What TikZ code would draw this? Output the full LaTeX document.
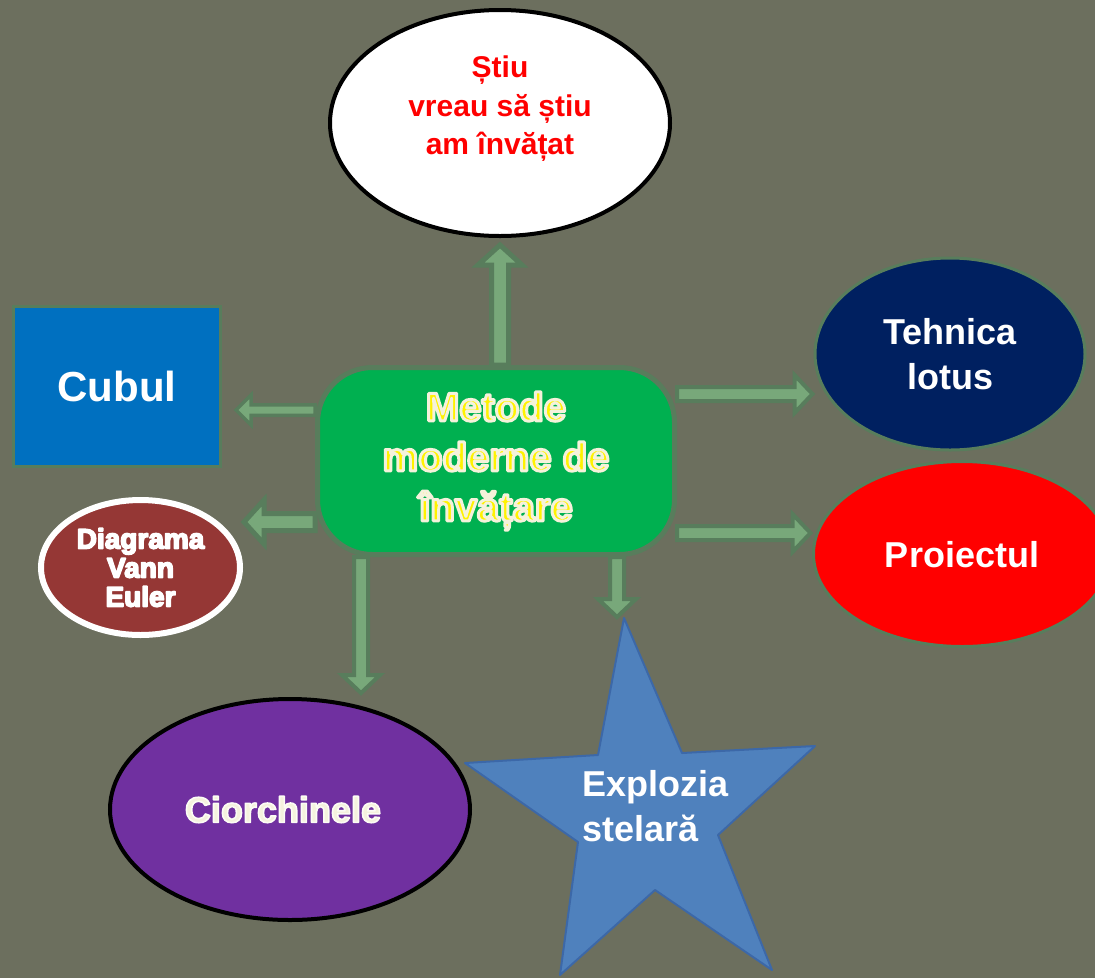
\documentclass[tikz,border=0pt]{standalone}
\usepackage{fontspec}
\setmainfont{Liberation Sans}
\usetikzlibrary{shapes.geometric, calc}
\definecolor{bgcol}{RGB}{108,111,94}
\definecolor{arrowedge}{RGB}{88,125,92}
\definecolor{arrowfill}{RGB}{120,168,122}
\definecolor{mainfill}{RGB}{0,176,80}
\definecolor{cream}{RGB}{245,242,222}
\definecolor{cubeblue}{RGB}{0,112,192}
\definecolor{lotusblue}{RGB}{0,32,96}
\definecolor{vennred}{RGB}{149,55,53}
\definecolor{grapepurple}{RGB}{112,48,160}
\definecolor{starblue}{RGB}{79,129,189}
\definecolor{staredge}{RGB}{60,104,168}
\newcommand{\fsz}[2]{\bfseries\fontsize{#1}{#2}\selectfont}
% text with a stroked outline: colour (rgb), width, text
\newcommand{\outlined}[3]{\special{pdf:literal direct 2 Tr 1 j #2 w #1 RG}#3\special{pdf:literal direct 0 Tr}}
\begin{document}
\begin{tikzpicture}[x=1pt, y=-1pt,
    every node/.style={inner sep=0pt, align=center},
    main/.style={rectangle, rounded corners=55pt, fill=mainfill, draw=arrowedge, line width=5pt,
        minimum width=357pt, minimum height=187pt, text=yellow, font=\fsz{40pt}{50pt}},
    oval/.style={ellipse, line width=3pt, draw=arrowedge, text=white},
    % block arrow: half shaft, half head, head length, border
    blockarr/.style n args={4}{fill=arrowfill, draw=arrowedge, line width=#4, line join=miter,
        to path={($(\tikztostart)!#1!90:(\tikztotarget)$)
            -- ($($(\tikztotarget)!#3!(\tikztostart)$)!#1!90:(\tikztotarget)$)
            -- ($($(\tikztotarget)!#3!(\tikztostart)$)!#2!90:(\tikztotarget)$)
            -- (\tikztotarget)
            -- ($($(\tikztotarget)!#3!(\tikztostart)$)!#2!-90:(\tikztotarget)$)
            -- ($($(\tikztotarget)!#3!(\tikztostart)$)!#1!-90:(\tikztotarget)$)
            -- ($(\tikztostart)!#1!-90:(\tikztotarget)$) -- cycle}},
    bigarr/.style={blockarr={8.5pt}{22pt}{20pt}{5pt}},
    midarr/.style={blockarr={7pt}{19pt}{18pt}{4pt}},
    smallarr/.style={blockarr={5.25pt}{15pt}{15pt}{3.5pt}}
]
\useasboundingbox (0,0) rectangle (1095,978);
\clip (0,0) rectangle (1095,978);
\fill[bgcol] (0,0) rectangle (1095,978);

% centre
\node[main] (main) at (496,461) {\outlined{0.96 0.95 0.86}{3}{Metode}\\\outlined{0.96 0.95 0.86}{3}{moderne de}\\\outlined{0.96 0.95 0.86}{3}{învățare}};

% methods around
\node[ellipse, fill=white, draw=black, line width=4pt, minimum width=340pt, minimum height=226pt,
    label={[text=red, font=\fsz{30pt}{38.5pt}, yshift=14pt]center:Știu\\vreau să știu\\am învățat}]
    (know) at (500,123) {};
\node[rectangle, fill=cubeblue, draw=arrowedge, line width=3pt, minimum width=207pt, minimum height=160pt,
    text=white, font=\fsz{42pt}{50pt}] (cube) at (117,386.5) {Cubul};
\node[oval, fill=lotusblue, minimum width=270pt, minimum height=192pt, font=\fsz{36pt}{45pt}]
    (lotus) at (950,354) {Tehnica\\lotus};
\node[oval, fill=red, minimum width=297pt, minimum height=185pt, font=\fsz{36pt}{45pt}, text depth=0pt]
    (proj) at (962,554) {Proiectul};
\node[ellipse, fill=vennred, draw=white, line width=6pt, minimum width=199pt, minimum height=135pt,
    text=white, font=\fsz{28pt}{29pt}] (venn) at (140.5,567.5)
    {\outlined{1 1 1}{1.6}{Diagrama}\\\outlined{1 1 1}{1.6}{Vann}\\\outlined{1 1 1}{1.6}{Euler}};
\node[ellipse, fill=grapepurple, draw=black, line width=4pt, minimum width=360pt, minimum height=221pt,
    text=cream, font=\fsz{36pt}{45pt}] (grapes) at (290,809.5)
    {\hspace*{-14pt}\outlined{0.99 0.99 0.96}{1.6}{Ciorchinele}};

% star
\draw[fill=starblue, draw=staredge, line width=2pt, line join=round]
    (624,618) -- (682,753) -- (815,746) -- (718,835) -- (772,970) -- (655,890)
    -- (560,975) -- (578,842) -- (465,763) -- (598,755) -- cycle;
\coordinate (startop) at (624,618);
\node[align=left, text=white, font=\fsz{36pt}{45pt}] (startext) at (655.5,806.5) {Explozia\\stelară};

% arrows
\draw[bigarr] (main.north -| know.south) to ([yshift=-7pt]know.south);
\draw[smallarr] ([yshift=51pt]main.west) to ([xshift=14pt, yshift=-23.5pt]cube.east);
\draw[bigarr] ([yshift=-61pt]main.west) to ([xshift=1pt, yshift=45.5pt]venn.east);
\draw[midarr] ([yshift=67pt]main.east) to ([xshift=-1pt, yshift=-40pt]lotus.west);
\draw[midarr] ([yshift=-72pt]main.east) to ([xshift=-1.5pt, yshift=21pt]proj.west);
\draw[midarr] ([xshift=-135pt]main.south) to ([xshift=71pt, yshift=4pt]grapes.north);
\draw[midarr] ([xshift=121pt]main.south) to ([xshift=-7pt, yshift=1pt]startop);
\end{tikzpicture}
\end{document}
